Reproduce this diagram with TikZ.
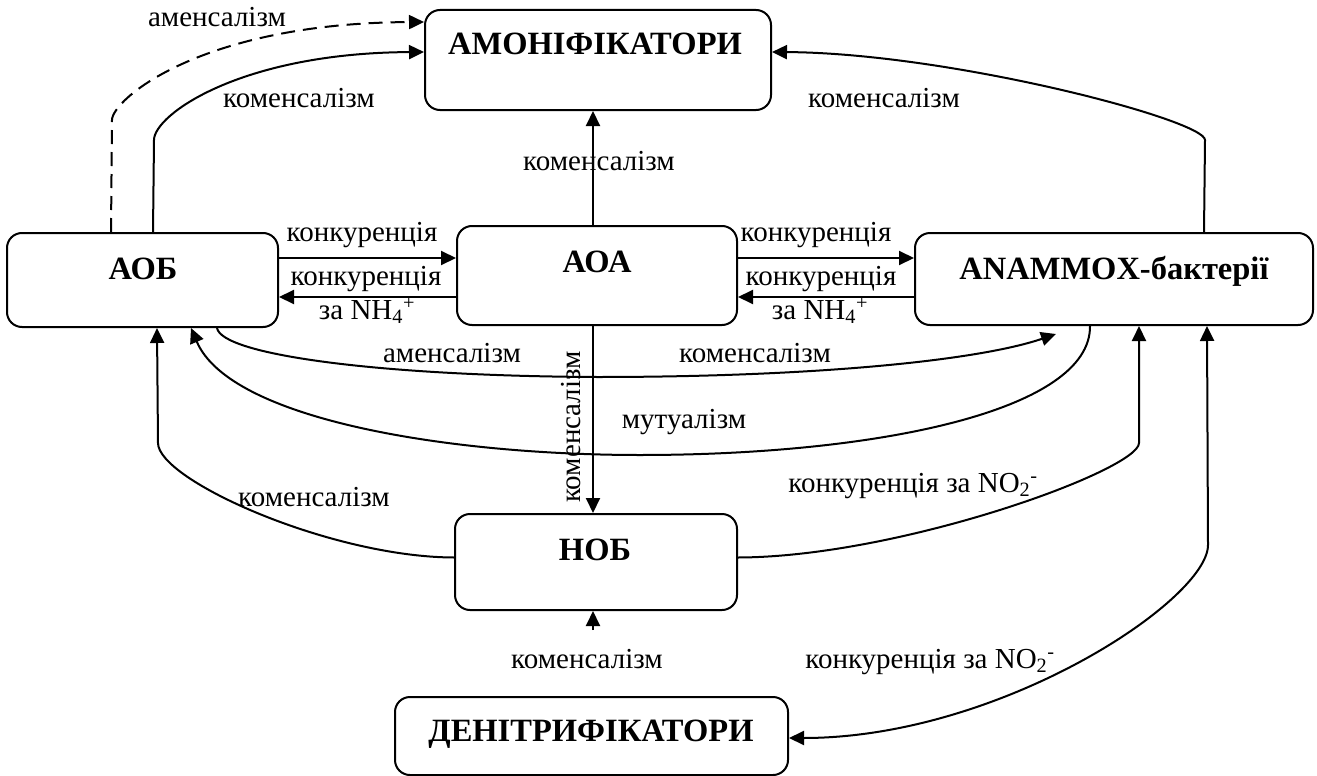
\documentclass[tikz,border=0pt]{standalone}
\usepackage{fontspec}
\setmainfont{Liberation Serif}
\usetikzlibrary{arrows.meta}

\begin{document}
\begin{tikzpicture}[x=1pt,y=-1pt,
  box/.style={draw, line width=2pt, rounded corners=15pt, inner sep=0pt},
  ttl/.style={font=\fontsize{32.5}{38}\selectfont\bfseries, inner sep=0pt, anchor=base},
  lbl/.style={font=\fontsize{29}{34}\selectfont, inner sep=0pt, anchor=base},
  link/.style={line width=2pt, line join=round},
  conn/.style={link, -{Triangle[length=15pt,width=14pt]}},
  conn2/.style={link, {Triangle[length=15pt,width=14pt]}-{Triangle[length=15pt,width=14pt]}}]

\useasboundingbox (0,0) rectangle (1317,776);

% organism groups
\node[box, minimum width=346pt, minimum height=100pt] (amon)  at (598,60)     {};
\node[box, minimum width=271pt, minimum height=94pt]  (aob)   at (142.5,280)  {};
\node[box, minimum width=280pt, minimum height=99pt]  (aoa)   at (597,275.5)  {};
\node[box, minimum width=398pt, minimum height=92pt]  (anam)  at (1114,279)   {};
\node[box, minimum width=282pt, minimum height=96pt]  (nob)   at (596,562)    {};
\node[box, minimum width=393pt, minimum height=78pt]  (denit) at (591.5,736)  {};

\node[ttl] (amonT)  at (595,55)   {АМОНІФІКАТОРИ};
\node[ttl] (aobT)   at (143,279)  {АОБ};
\node[ttl] (aoaT)   at (597,272)  {АОА};
\node[ttl] (anamT)  at (1114,279) {ANAMMOX-бактерії};
\node[ttl] (nobT)   at (595,560)  {НОБ};
\node[ttl] (denitT) at (591,741)  {ДЕНІТРИФІКАТОРИ};

% helper points
\coordinate (nobin) at (593,630);
\coordinate (axis) at (593,0);

% links to the ammonifiers
\draw[conn, dashed, dash pattern=on 14pt off 8pt]
  ([xshift=105pt]aob.north west) -- (112,120)
  .. controls (112,100) and (200,23) .. ([yshift=-13pt]amon.north west);
\draw[conn] ([xshift=147pt]aob.north west) -- (154,140)
  .. controls (154,115) and (240,53) .. ([yshift=-43pt]amon.north west);
\draw[conn] ([xshift=290pt]anam.north west) -- (1205,140)
  .. controls (1205,120) and (950,53) .. ([yshift=-43pt]amon.north east);
\draw[conn] (aoa.north -| axis) -- (amon.south -| axis);

% ammonia competition
\draw[conn] (aob.east |- 0,258) -- (aoa.west |- 0,258);
\draw[conn] (aoa.west |- 0,297) -- (aob.east |- 0,297);
\draw[conn] (aoa.east |- 0,258) -- (anam.west |- 0,258);
\draw[conn] (anam.west |- 0,297) -- (aoa.east |- 0,297);

% lower links
\draw[conn] ([xshift=211pt]aob.south west)
  .. controls (222,355) and (380,376) .. (597,377)
  .. controls (820,377) and (980,360) .. ([xshift=142pt,yshift=-8pt]anam.south west);
\draw[conn] ([xshift=176pt]anam.south west)
  .. controls (1091,410) and (880,455) .. (640,455)
  .. controls (450,455) and (230,420) .. ([xshift=185pt]aob.south west);
\draw[conn] (aoa.south -| axis) -- (nob.north -| axis);
\draw[conn] ([yshift=4.5pt]nob.west)
  .. controls (330,557) and (158,480) .. (158,443) -- ([xshift=151pt]aob.south west);
\draw[conn] ([yshift=4.5pt]nob.east)
  .. controls (900,557) and (1139,470) .. (1139,443) -- ([xshift=225pt]anam.south west);
\draw[conn2] ([xshift=293pt]anam.south west) -- (1208,545)
  .. controls (1208,600) and (1000,738) .. ([yshift=-2pt]denit.east);
\draw[conn] (nobin) -- (nobin |- nob.south);

% relation labels
\node[lbl] (l1)  at (217,27)  {аменсалізм};
\node[lbl] (l2)  at (299,107) {коменсалізм};
\node[lbl] (l3)  at (884,107) {коменсалізм};
\node[lbl] (l4)  at (599,170) {коменсалізм};
\node[lbl] (l5)  at (362,241) {конкуренція};
\node[lbl] (l6)  at (366,285) {конкуренція};
\node[lbl] (l7)  at (367,319) {за NH\textsubscript{4}\textsuperscript{+}};
\node[lbl] (l8)  at (816,241) {конкуренція};
\node[lbl] (l9)  at (821,285) {конкуренція};
\node[lbl] (l10) at (820,319) {за NH\textsubscript{4}\textsuperscript{+}};
\node[lbl] (l11) at (452,362) {аменсалізм};
\node[lbl] (l12) at (755,362) {коменсалізм};
\node[lbl, rotate=90] (l13) at (580,427) {коменсалізм};
\node[lbl] (l14) at (684,428) {мутуалізм};
\node[lbl] (l15) at (314,506) {коменсалізм};
\node[lbl] (l16) at (913,492) {конкуренція за NO\textsubscript{2}\textsuperscript{-}};
\node[lbl] (l17) at (587,668) {коменсалізм};
\node[lbl] (l18) at (930,668) {конкуренція за NO\textsubscript{2}\textsuperscript{-}};
\end{tikzpicture}
\end{document}
